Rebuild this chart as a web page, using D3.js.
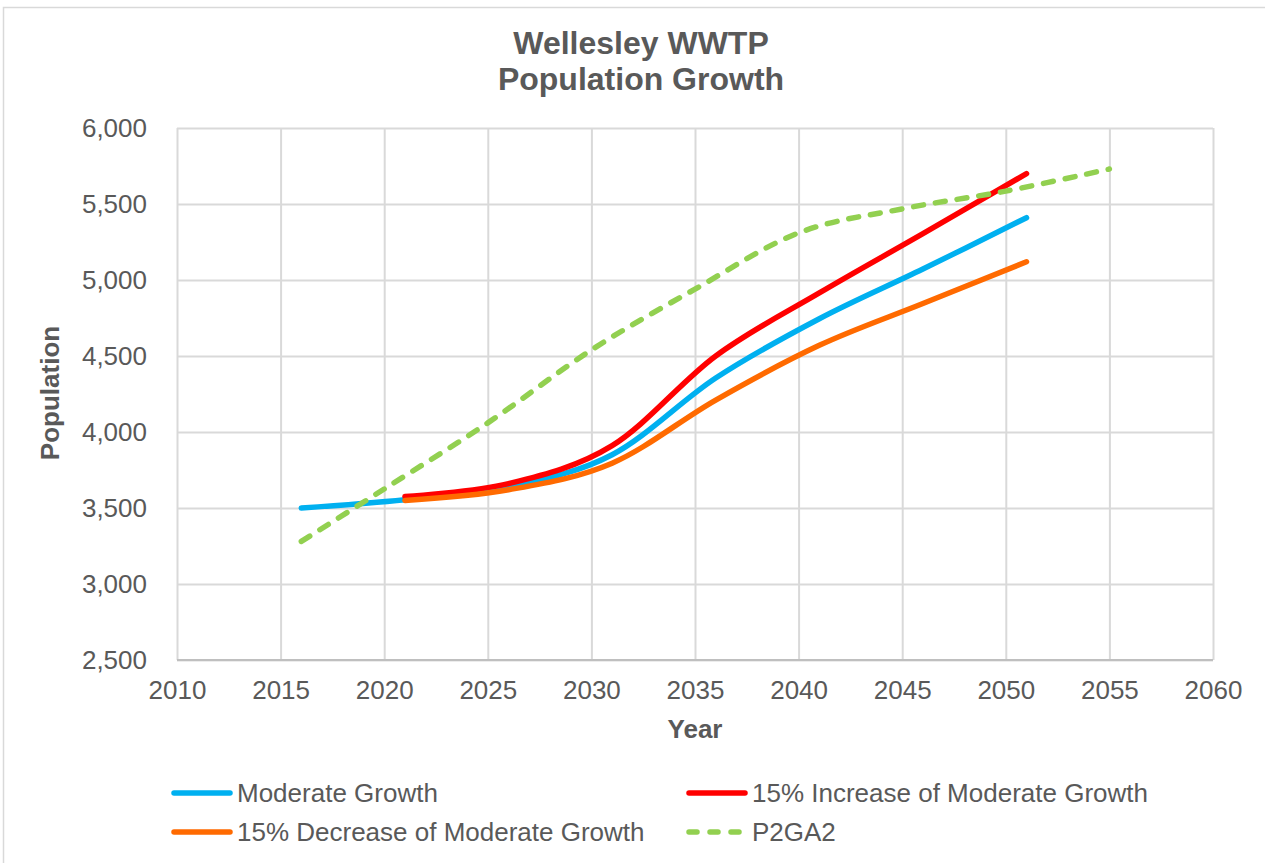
<!DOCTYPE html>
<html>
<head>
<meta charset="utf-8">
<script src="https://cdn.jsdelivr.net/npm/d3@7"></script>
<style>
  body { margin: 0; background: #fff; }
  svg { display: block; font-family: "Liberation Sans", Arial, sans-serif; }
</style>
</head>
<body>
<svg id="chart" width="1265" height="863"></svg>
<script>
// data
const yearsModerate = [2016, 2021, 2026, 2031, 2036, 2041, 2046, 2051];
const moderate = [3500, 3555, 3640, 3850, 4355, 4745, 5072, 5410];
const yearsScenario = [2021, 2026, 2031, 2036, 2041, 2046, 2051];
const increase = [3575, 3660, 3910, 4500, 4915, 5305, 5700];
const decrease = [3550, 3620, 3795, 4210, 4570, 4845, 5120];
const yearsP2GA2 = [2016, 2020, 2025, 2030, 2035, 2040, 2045, 2050, 2055];
const p2ga2 = [3280, 3625, 4060, 4540, 4940, 5310, 5468, 5585, 5730];

const xTicks = [2010, 2015, 2020, 2025, 2030, 2035, 2040, 2045, 2050, 2055, 2060];
const yTicks = [2500, 3000, 3500, 4000, 4500, 5000, 5500, 6000];

const series = [
  { name: 'Moderate Growth', years: yearsModerate, values: moderate, color: '#00b0f0', dash: null },
  { name: '15% Increase of Moderate Growth', years: yearsScenario, values: increase, color: '#ff0000', dash: null },
  { name: '15% Decrease of Moderate Growth', years: yearsScenario, values: decrease, color: '#ff6a00', dash: null },
  { name: 'P2GA2', years: yearsP2GA2, values: p2ga2, color: '#92d050', dash: '10,12' }
];

const textColor = '#595959';
const svg = d3.select('#chart');

// outer chart border
svg.append('rect')
  .attr('x', 3.5).attr('y', 7.5)
  .attr('width', 1300).attr('height', 900)
  .attr('fill', '#fff').attr('stroke', '#d9d9d9').attr('stroke-width', 1.5);

const margin = { top: 128, right: 52, bottom: 203, left: 177 };
const width = 1265, height = 863;

const x = d3.scaleLinear().domain([2010, 2060]).range([margin.left, width - margin.right]);
const y = d3.scaleLinear().domain([2500, 6000]).range([height - margin.bottom, margin.top]);

// gridlines
svg.append('g')
  .attr('transform', `translate(0,${height - margin.bottom})`)
  .call(d3.axisBottom(x).tickValues(xTicks).tickSize(-(height - margin.top - margin.bottom)).tickFormat(''))
  .call(g => g.select('.domain').remove())
  .call(g => g.selectAll('line').attr('stroke', '#d9d9d9').attr('stroke-width', 2));

svg.append('g')
  .attr('transform', `translate(${margin.left},0)`)
  .call(d3.axisLeft(y).tickValues(yTicks).tickSize(-(width - margin.left - margin.right)).tickFormat(''))
  .call(g => g.select('.domain').remove())
  .call(g => g.selectAll('line').attr('stroke', '#d9d9d9').attr('stroke-width', 2));

// bottom axis line
svg.append('line')
  .attr('x1', margin.left).attr('x2', width - margin.right)
  .attr('y1', y(2500)).attr('y2', y(2500))
  .attr('stroke', '#bfbfbf').attr('stroke-width', 2);

// tick labels
svg.append('g')
  .attr('transform', `translate(0,${height - margin.bottom})`)
  .call(d3.axisBottom(x).tickValues(xTicks).tickSize(0).tickPadding(21).tickFormat(d3.format('d')))
  .call(g => g.select('.domain').remove())
  .call(g => g.selectAll('text').attr('fill', textColor).style('font-size', '26px')
    .style('font-family', '"Liberation Sans", Arial, sans-serif'));

svg.append('g')
  .attr('transform', `translate(${margin.left},0)`)
  .call(d3.axisLeft(y).tickValues(yTicks).tickSize(0).tickPadding(30).tickFormat(d3.format(',')))
  .call(g => g.select('.domain').remove())
  .call(g => g.selectAll('text').attr('fill', textColor).style('font-size', '26px')
    .style('font-family', '"Liberation Sans", Arial, sans-serif'));

// titles
const title = svg.append('text')
  .attr('text-anchor', 'middle')
  .attr('fill', textColor)
  .style('font-size', '32px').style('font-weight', 'bold');
title.append('tspan').attr('x', 641).attr('y', 54).text('Wellesley WWTP');
title.append('tspan').attr('x', 641).attr('y', 90).text('Population Growth');

svg.append('text')
  .attr('x', 695).attr('y', 738)
  .attr('text-anchor', 'middle').attr('fill', textColor)
  .style('font-size', '26px').style('font-weight', 'bold')
  .text('Year');

svg.append('text')
  .attr('transform', 'translate(59,393) rotate(-90)')
  .attr('text-anchor', 'middle').attr('fill', textColor)
  .style('font-size', '26px').style('font-weight', 'bold')
  .text('Population');

// lines
const line = d3.line()
  .x(d => x(d[0]))
  .y(d => y(d[1]))
  .curve(d3.curveCatmullRom.alpha(0));

svg.append('g')
  .selectAll('path')
  .data(series)
  .join('path')
  .attr('d', s => line(s.years.map((yr, i) => [yr, s.values[i]])))
  .attr('fill', 'none')
  .attr('stroke', s => s.color)
  .attr('stroke-width', 5.5)
  .attr('stroke-linecap', 'round')
  .attr('stroke-linejoin', 'round')
  .attr('stroke-dasharray', s => s.dash);

// legend
const legendPos = [[172, 793], [687, 793], [172, 832], [687, 832]];
const legend = svg.append('g')
  .selectAll('g')
  .data(series)
  .join('g')
  .attr('transform', (s, i) => `translate(${legendPos[i][0]},${legendPos[i][1]})`);

legend.append('line')
  .attr('x1', 2).attr('x2', 58)
  .attr('stroke', s => s.color)
  .attr('stroke-width', 5.5)
  .attr('stroke-linecap', 'round')
  .attr('stroke-dasharray', s => s.dash ? '8,13' : null);

legend.append('text')
  .attr('x', 65)
  .attr('dy', '0.35em')
  .attr('fill', textColor)
  .style('font-size', '26px')
  .text(s => s.name);
</script>
</body>
</html>
